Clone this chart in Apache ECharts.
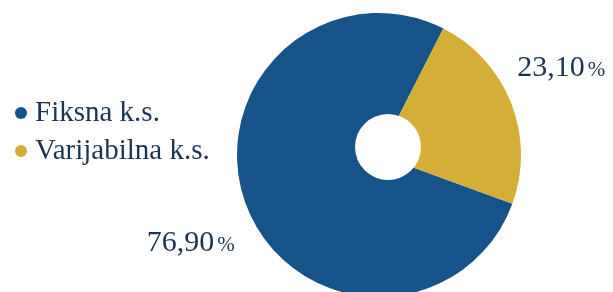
<!DOCTYPE html>
<html>
<head>
<meta charset="utf-8">
<script src="https://cdn.jsdelivr.net/npm/echarts@6/dist/echarts.min.js"></script>
<style>
  html, body { margin: 0; padding: 0; background: #fff; }
  #chartsDom { width: 613px; height: 292px; }
</style>
</head>
<body>
<div id="chartsDom"></div>
<script>
// podaci
const categories = ["Fiksna k.s.", "Varijabilna k.s."];
const values = [76.9, 23.1];
const colors = ["#15538a", "#d4ae36"];

const textColor = "#1c3452";
const serif = "'Liberation Serif', 'DejaVu Serif', serif";

const myChart = echarts.init(document.getElementById("chartsDom"));

let option = {
  animation: false,
  legend: {
    data: categories,
    orient: "vertical",
    left: 10,
    top: 93,
    icon: "circle",
    itemWidth: 12,
    itemHeight: 12,
    itemGap: 8,
    selectedMode: false,
    textStyle: {
      fontFamily: serif,
      fontSize: 29,
      lineHeight: 30,
      color: textColor,
      padding: [0, 0, 0, 3]
    }
  },
  series: [
    {
      name: "kamatna stopa",
      type: "pie",
      center: [379, 155],
      radius: [0, 142],
      startAngle: 90 - 110.1, // zlatni dio oko 68.5 stupnjeva
      clockwise: true,
      avoidLabelOverlap: false,
      silent: true,
      data: categories.map((name, i) => ({
        name,
        value: values[i],
        itemStyle: { color: colors[i] }
      })),
      label: {
        show: true,
        position: "outside",
        distanceToLabelLine: 5,
        formatter: p => "{v|" + p.value.toFixed(2).replace(".", ",") + "}{p|%}",
        rich: {
          v: {
            fontFamily: serif,
            fontSize: 30,
            lineHeight: 30,
            color: textColor,
            verticalAlign: "bottom"
          },
          p: {
            fontFamily: serif,
            fontSize: 21,
            lineHeight: 21,
            color: textColor,
            verticalAlign: "bottom",
            padding: [0, 0, 2, 3]
          }
        }
      },
      labelLine: { show: false, length: 0, length2: 0 },
      labelLayout: params => {
        if (params.dataIndex === 1) return { dx: 1, dy: -35 };
        return { dx: -7, dy: 36 };
      }
    },
    {
      // bijela rupa, malo pomaknuta kao u originalu
      name: "rupa",
      type: "pie",
      center: [388, 147],
      radius: [0, 33],
      silent: true,
      label: { show: false },
      labelLine: { show: false },
      data: [{ name: "rupa", value: 1, itemStyle: { color: "#ffffff" } }]
    }
  ]
};
option && myChart.setOption(option);
</script>
</body>
</html>
